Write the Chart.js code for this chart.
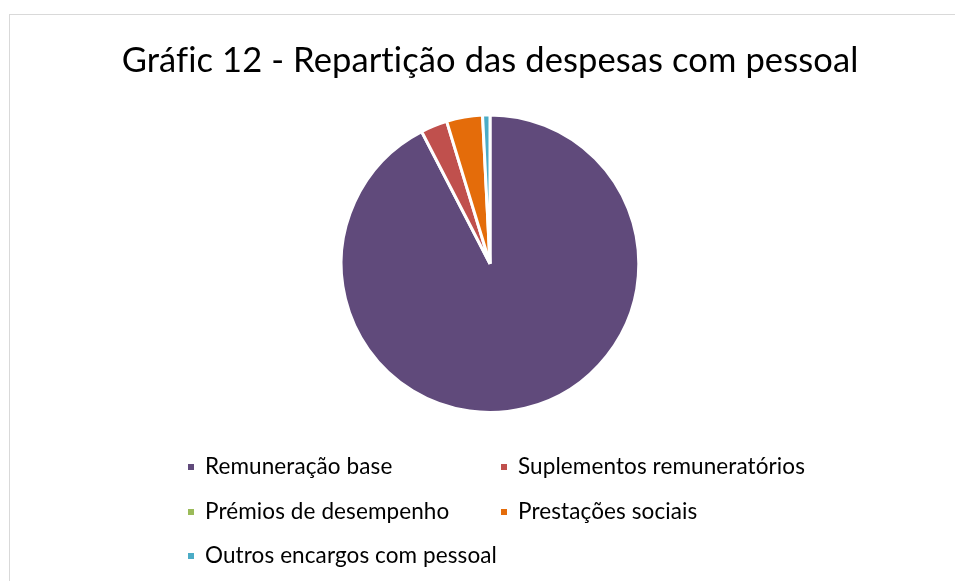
<!DOCTYPE html>
<html>
<head>
<meta charset="utf-8">
<script src="https://cdn.jsdelivr.net/npm/chart.js@4"></script>
<style>
    html, body { margin: 0; padding: 0; background: #fff; overflow: hidden; }
    #box {
        position: absolute; left: 9px; top: 14px; width: 960px; height: 580px;
        border-top: 1px solid #d9d9d9; border-left: 1px solid #d9d9d9;
    }
    #box canvas { display: block; }
</style>
</head>
<body>
<div id="box"><canvas id="pieChart" width="960" height="567"></canvas></div>
<script>
// Dados do gráfico (percentagens)
const categorias = ['Remuneração base', 'Suplementos remuneratórios', 'Prémios de desempenho', 'Prestações sociais', 'Outros encargos com pessoal'];
const valores = [92.4, 2.9, 0, 3.9, 0.8];
const cores = ['#604A7B', '#C0504D', '#9BBB59', '#E46C0A', '#4BACC6'];
const titulo = 'Gráfic 12 - Repartição das despesas com pessoal';

const FONTE = 'Lato, "Open Sans", sans-serif';

// sem ligaduras (ti) no texto
const semLigaduras = {
    id: 'semLigaduras',
    beforeDraw(chart) {
        chart.ctx.letterSpacing = '0.1px';
    }
};

// legenda em duas colunas, como no Excel
const legendaGrelha = {
    id: 'legendaGrelha',
    afterDraw(chart) {
        const ctx = chart.ctx;
        const colX = [178, 491];
        const rowY = [452, 497, 541];
        ctx.save();
        ctx.font = '22.5px ' + FONTE;
        ctx.textBaseline = 'middle';
        chart.data.labels.forEach(function(label, i) {
            const x = colX[i % 2];
            const y = rowY[Math.floor(i / 2)];
            ctx.fillStyle = chart.data.datasets[0].backgroundColor[i];
            ctx.fillRect(x, y - 3, 6, 6);
            ctx.fillStyle = '#000';
            ctx.fillText(label, x + 17, y);
        });
        ctx.restore();
    }
};

const ctx = document.getElementById('pieChart').getContext('2d');
const pieChart = new Chart(ctx, {
    type: 'pie',
    data: {
        labels: categorias,
        datasets: [{
            data: valores,
            backgroundColor: cores,
            borderColor: '#ffffff',
            borderWidth: 3
        }]
    },
    options: {
        responsive: false,
        animation: false,
        layout: { padding: { top: 0, bottom: 168, left: 0, right: 0 } },
        plugins: {
            legend: { display: false },
            tooltip: { enabled: false },
            title: {
                display: true,
                text: titulo,
                color: '#000',
                font: { family: FONTE, size: 34.5, weight: 'normal' },
                padding: { top: 25, bottom: 32 }
            }
        }
    },
    plugins: [semLigaduras, legendaGrelha]
});
</script>
</body>
</html>
